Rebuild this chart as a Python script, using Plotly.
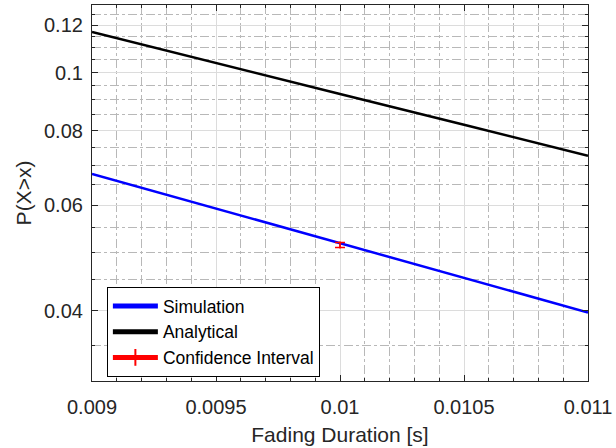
import numpy as np
import plotly.graph_objects as go

# Data
x_vals = [0.009, 0.0095, 0.01, 0.0105, 0.011]
analytical = [0.1169, 0.1039, 0.0921, 0.0818, 0.0726]
simulation = [0.0677, 0.0592, 0.0518, 0.0453, 0.0397]
ci_x = [0.01]
ci_y = [0.0515]
ci_err = [0.0005]

x_ticks = [0.009, 0.0095, 0.01, 0.0105, 0.011]
x_ticklabels = ["0.009", "0.0095", "0.01", "0.0105", "0.011"]
y_ticks = [0.04, 0.06, 0.08, 0.1, 0.12]
y_ticklabels = ["0.04", "0.06", "0.08", "0.1", "0.12"]
x_minor = [0.009 + 0.0001 * i for i in range(21)]
y_minor = [0.035 + 0.005 * i for i in range(19)]

FONT = "Liberation Sans, Arial, sans-serif"
AX = "#262626"

fig = go.Figure()
fig.add_trace(go.Scatter(x=x_vals, y=simulation, mode="lines", name="Simulation",
                         line=dict(color="#0000ff", width=2.5)))
fig.add_trace(go.Scatter(x=x_vals, y=analytical, mode="lines", name="Analytical",
                         line=dict(color="#000000", width=2.5)))
fig.add_trace(go.Scatter(x=ci_x, y=ci_y, mode="lines+markers", name="Confidence Interval",
                         line=dict(color="#ff0000", width=1.5),
                         marker=dict(symbol="line-ns-open", size=5, color="#ff0000",
                                     line=dict(width=1.5, color="#ff0000")),
                         error_y=dict(type="data", array=ci_err, color="#ff0000",
                                      thickness=1.5, width=5)))

axis_common = dict(
    showline=True, linecolor=AX, linewidth=1.2, mirror="ticks",
    ticks="inside", ticklen=6, tickcolor=AX,
    showgrid=True, gridcolor="#dcdcdc", gridwidth=1,
    zeroline=False,
    tickfont=dict(family=FONT, size=20, color=AX),
)

fig.update_xaxes(
    range=[0.009, 0.011], tickmode="array", tickvals=x_ticks, ticktext=x_ticklabels,
    minor=dict(tickmode="array", tickvals=x_minor, ticks="inside", ticklen=3,
               tickcolor=AX, showgrid=True, gridcolor="#b8b8b8", griddash="dashdot",
               gridwidth=1),
    title=dict(text="Fading Duration [s]", font=dict(family=FONT, size=21, color=AX),
               standoff=10),
    ticklabelstandoff=8,
    **axis_common,
)
fig.update_yaxes(
    type="log", range=[np.log10(0.0305), np.log10(0.1297)],
    tickmode="array", tickvals=y_ticks, ticktext=y_ticklabels,
    minor=dict(tickmode="array", tickvals=y_minor, ticks="inside", ticklen=3,
               tickcolor=AX, showgrid=True, gridcolor="#b8b8b8", griddash="dashdot",
               gridwidth=1),
    title=dict(text="P(X>x)", font=dict(family=FONT, size=21, color=AX), standoff=6),
    ticklabelstandoff=4,
    **axis_common,
)

fig.update_layout(
    width=616, height=448,
    margin=dict(l=92, r=28, t=5, b=67),
    paper_bgcolor="white", plot_bgcolor="white",
    showlegend=True,
    legend=dict(x=0.03, y=0.25, xanchor="left", yanchor="top",
                bgcolor="white", bordercolor="#000000", borderwidth=1,
                font=dict(family=FONT, size=17.5, color="#000000"),
                itemwidth=45, itemsizing="constant", tracegroupgap=0),
)

fig.write_html("out.html")
